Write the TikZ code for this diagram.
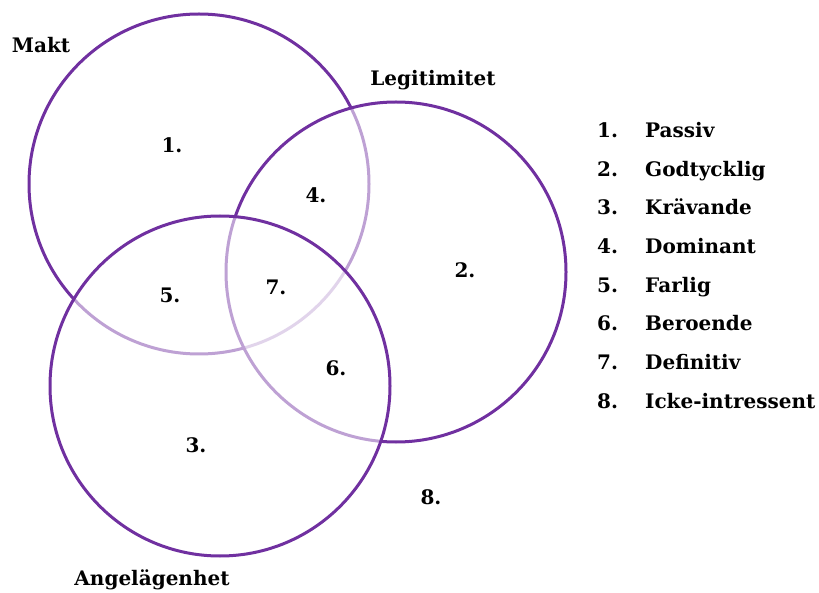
\documentclass[tikz,border=0pt]{standalone}
\usepackage{fontspec}
\setmainfont{DejaVu Serif}
\usepackage{tikz}
\usetikzlibrary{positioning}
\definecolor{violet}{HTML}{7030A0}

\begin{document}
\begin{tikzpicture}[
  x=1pt, y=-1pt,
  font=\fontsize{20}{22}\selectfont\bfseries,
  ring/.style={draw=violet, line width=3pt, circle, minimum size=340pt, inner sep=0pt, outer sep=0pt, fill=white, fill opacity=0.55},
  lbl/.style={inner sep=0pt},
  item/.style={anchor=west, inner sep=0pt, text height=0.72em, text depth=0.22em}]
\useasboundingbox (0,0) rectangle (819,593);
% the three circles, later ones pale the outline under them
\node[ring] (makt) at (199,184) {};
\node[ring] (legit) at (396,272) {};
\node[ring] (angel) at (220,386) {};
% circle names
\node[lbl] (tmakt) at (41,45) {Makt};
\node[lbl] (tlegit) at (433,80) {Legitimitet};
\node[lbl] (tangel) at (152,580) {Angelägenhet};
% region numbers
\node[lbl] (r1) at (172,145) {1.};
\node[lbl] (r2) at (465,270) {2.};
\node[lbl] (r3) at (196,445) {3.};
\node[lbl] (r4) at (316,195) {4.};
\node[lbl] (r5) at (170,295) {5.};
\node[lbl] (r6) at (336,368) {6.};
\node[lbl] (r7) at (276,287) {7.};
\node[lbl] (r8) at (431,497) {8.};
% legend
\foreach \n/\t [count=\i from 0] in {1/Passiv, 2/Godtycklig, 3/Krävande, 4/Dominant, 5/Farlig, 6/Beroende, 7/Definitiv, 8/Icke-intressent} {
  \node[item] (num\n) at (597,135+38.7*\i) {\n.};
  \node[item] (leg\n) at (645,135+38.7*\i) {\t};
}
\end{tikzpicture}
\end{document}
